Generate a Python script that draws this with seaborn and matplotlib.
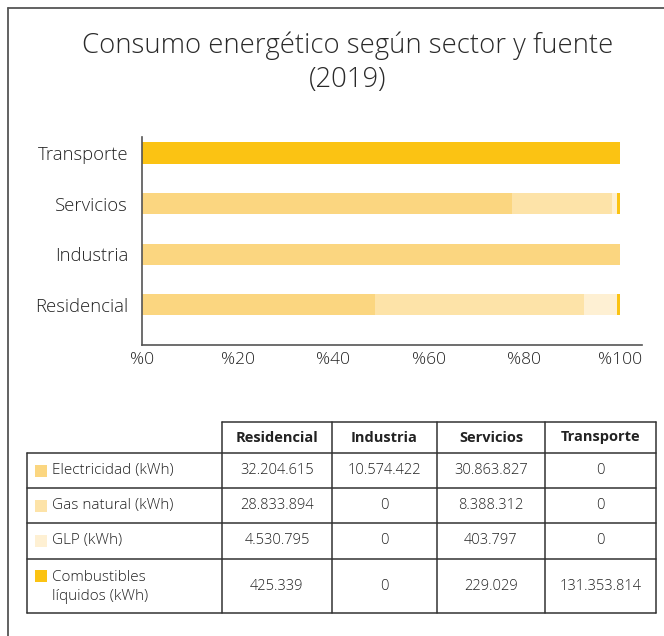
import matplotlib
matplotlib.use("Agg")
import matplotlib.pyplot as plt
import seaborn as sns
import numpy as np
import pandas as pd

# ---- data ----
sectors = ["Residencial", "Industria", "Servicios", "Transporte"]
sources = ["Electricidad (kWh)", "Gas natural (kWh)", "GLP (kWh)", "Combustibles\nlíquidos (kWh)"]
electricidad = [32204615, 10574422, 30863827, 0]
gas_natural = [28833894, 0, 8388312, 0]
glp = [4530795, 0, 403797, 0]
combustibles = [425339, 0, 229029, 131353814]
tick_labels = ["%0", "%20", "%40", "%60", "%80", "%100"]
title = "Consumo energético según sector y fuente\n(2019)"

colors = ["#FBD680", "#FDE3A8", "#FEF0D3", "#FBC313"]

sns.set_theme(style="white")
plt.rcParams["font.family"] = ["Open Sans", "DejaVu Sans"]

fig = plt.figure(figsize=(6.64, 6.36), dpi=100)
W, H = 664, 636

# background axes for frame + table (pixel coords)
bg = fig.add_axes([0, 0, 1, 1])
bg.set_xlim(0, W)
bg.set_ylim(H, 0)
bg.axis("off")
bg.plot([8, 8], [8, H], color="#555555", lw=1.3)
bg.plot([8, W], [8, 8], color="#555555", lw=1.3)

fig.text(348 / W, 1 - 62.5 / H, title, ha="center", va="center", fontsize=19.8,
         color="#2a2a2a", linespacing=1.3, fontweight="light")

# ---- bar chart ----
order = ["Transporte", "Servicios", "Industria", "Residencial"]
df = pd.DataFrame({"sector": sectors, "e": electricidad, "g": gas_natural,
                   "l": glp, "c": combustibles})
tot = df[["e", "g", "l", "c"]].sum(axis=1)
df["cum_c"] = 100 * (df.e + df.g + df.l + df.c) / tot
df["cum_l"] = 100 * (df.e + df.g + df.l) / tot
df["cum_g"] = 100 * (df.e + df.g) / tot
df["cum_e"] = 100 * df.e / tot

ax = fig.add_axes([142 / W, 1 - 345 / H, (642 - 142) / W, (345 - 137) / H])
for col, c in zip(["cum_c", "cum_l", "cum_g", "cum_e"], colors[::-1]):
    sns.barplot(data=df, y="sector", x=col, order=order, orient="h", color=c,
                width=0.415, ax=ax, saturation=1, linewidth=0)

ax.set_xlim(0, 104.6)
ax.set_ylim(3.79, -0.316)
ax.set_xticks(np.arange(0, 101, 20))
ax.set_xticklabels(tick_labels, fontsize=12.5, color="#222222", fontweight="light")
for lbl in ax.get_yticklabels():
    lbl.set_fontweight("light")
ax.tick_params(axis="x", direction="in", length=10, width=1.1, color="#555555", pad=5)
ax.tick_params(axis="y", length=0, labelsize=13.3, labelcolor="#222222", pad=10)
ax.set_xlabel("")
ax.set_ylabel("")
for s in ["top", "right"]:
    ax.spines[s].set_visible(False)
for s in ["left", "bottom"]:
    ax.spines[s].set_color("#555555")
    ax.spines[s].set_linewidth(1.2)

# ---- table ----
col_x = [27, 222, 332, 437, 545, 656]
row_y = [422, 453, 488, 523, 559, 613]
lc = "#333333"
lw = 1.1
bg.plot([col_x[1], col_x[-1]], [row_y[0], row_y[0]], color=lc, lw=lw)
for x in col_x[1:]:
    bg.plot([x, x], [row_y[0], row_y[-1]], color=lc, lw=lw)
bg.plot([col_x[0], col_x[0]], [row_y[1], row_y[-1]], color=lc, lw=lw)
for y in row_y[1:]:
    bg.plot([col_x[0], col_x[-1]], [y, y], color=lc, lw=lw)

for j, sec in enumerate(sectors):
    xc = (col_x[j + 1] + col_x[j + 2]) / 2
    bg.text(xc, (row_y[0] + row_y[1]) / 2, sec, ha="center", va="center",
            fontsize=10.5, fontweight="bold", color="#222222")

values = [electricidad, gas_natural, glp, combustibles]
for i, (src, vals) in enumerate(zip(sources, values)):
    yc = (row_y[i + 1] + row_y[i + 2]) / 2
    if "\n" in src:
        sq_y = yc - 10
        bg.text(52, yc + 1, src, ha="left", va="center", fontsize=11,
                color="#222222", linespacing=1.3, fontweight="light")
    else:
        sq_y = yc
        bg.text(52, yc, src, ha="left", va="center", fontsize=11,
                color="#222222", fontweight="light")
    bg.add_patch(plt.Rectangle((35, sq_y - 6), 12, 12, color=colors[i], lw=0))
    for j, v in enumerate(vals):
        xc = (col_x[j + 1] + col_x[j + 2]) / 2
        bg.text(xc, yc, f"{v:,}".replace(",", "."), ha="center", va="center",
                fontsize=10.5, color="#222222", fontweight="light")

fig.savefig("out.png", dpi=100)
